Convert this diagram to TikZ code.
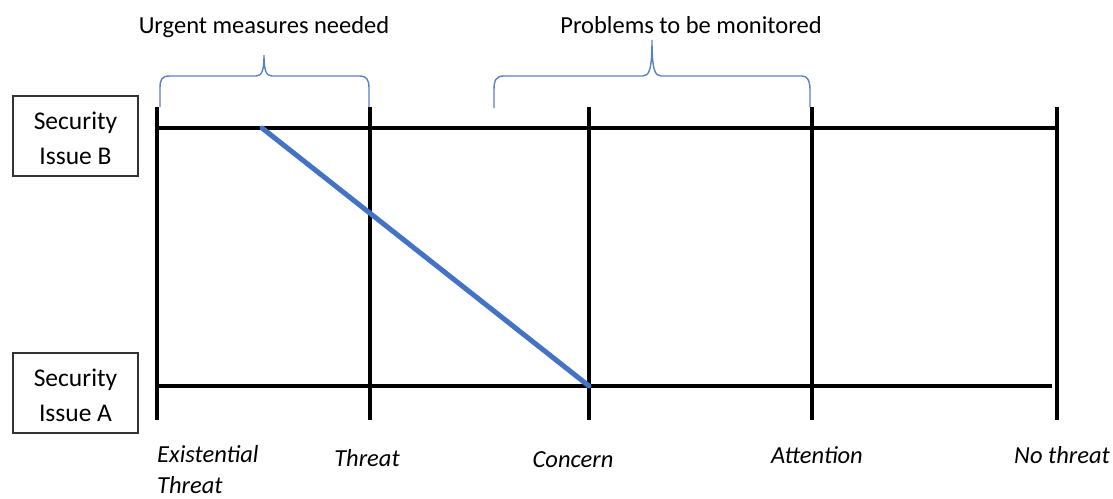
\documentclass[tikz,border=0pt]{standalone}
\usepackage{fontspec}
\setmainfont{Carlito}
\definecolor{msblue}{HTML}{4472C4}
\definecolor{bracecol}{HTML}{5B7FC7}
\begin{document}
\begin{tikzpicture}[x=1pt,y=-1pt,
  axis/.style={line width=4.2pt, black},
  tickline/.style={line width=4pt, black},
  issueshift/.style={line width=5pt, msblue},
  bracket/.style={line width=1.4pt, bracecol},
  issuebox/.style={draw=black!80, line width=1.2pt, minimum width=125pt, minimum height=80pt,
    align=center, font=\fontsize{25.5}{35}\selectfont, inner sep=0pt},
  level/.style={font=\fontsize{24.5}{31}\selectfont\itshape, inner sep=0pt, anchor=base},
  heading/.style={font=\fontsize{24.5}{30}\selectfont, inner sep=0pt, anchor=base}]
\useasboundingbox (0,0) rectangle (1113,498);

% issue boxes (the taller first-line strut lowers the text a little)
\node[issuebox] (issueB) at (75.5,136) {\rule{0pt}{23pt}Security\\Issue B};
\node[issuebox] (issueA) at (75.5,393) {\rule{0pt}{23pt}Security\\Issue A};

% scale positions: top and bottom end of each tick
\foreach \n/\x in {ex/157, th/370, co/589, at/812, no/1057}{
  \coordinate (\n-top) at (\x,107);
  \coordinate (\n-bot) at (\x,420);
  \coordinate (\n-B) at (\x,128);
  \coordinate (\n-A) at (\x,386);
}
\coordinate (A-end) at (1052,386);
\coordinate (B-pos) at (262,128);

% issue lines
\draw[axis] (ex-B) -- (no-B);
\draw[axis] (ex-A) -- (A-end);

% ticks
\foreach \n in {ex, th, co, at, no}
  \draw[tickline] (\n-top) -- (\n-bot);

% shift of the issue from B to A
\draw[issueshift, line cap=round] (B-pos) -- (co-A);

% level labels
\node[level, anchor=base west, align=left] (lex) at (157,493) {Existential\\Threat};
\node[level] (lth) at (367,466) {Threat};
\node[level] (lco) at (573,467) {Concern};
\node[level] (lat) at (817,463) {Attention};
\node[level] (lno) at (1062,463) {No threat};

% braces and headings
\coordinate (u-tip) at (264,55);
\draw[bracket] (160,107) -- (160,88) .. controls (160,79) and (162,76) .. (170,76)
  -- (256,76) .. controls (262,76) and (264,70) .. (u-tip)
  .. controls (264,70) and (266,76) .. (272,76)
  -- (360,76) .. controls (366,76) and (369,79) .. (369,88) -- (369,107);
\node[heading] (urgent) at (264,33) {Urgent measures needed};

\coordinate (p-tip) at (652,40);
\draw[bracket] (494,108) -- (494,90) .. controls (494,80) and (496,76) .. (504,76)
  -- (643,76) .. controls (649,76) and (652,70) .. (p-tip)
  .. controls (652,70) and (655,76) .. (661,76)
  -- (802,76) .. controls (807,76) and (810,80) .. (810,90) -- (810,107);
\node[heading] (monitor) at (691,33) {Problems to be monitored};
\end{tikzpicture}
\end{document}
